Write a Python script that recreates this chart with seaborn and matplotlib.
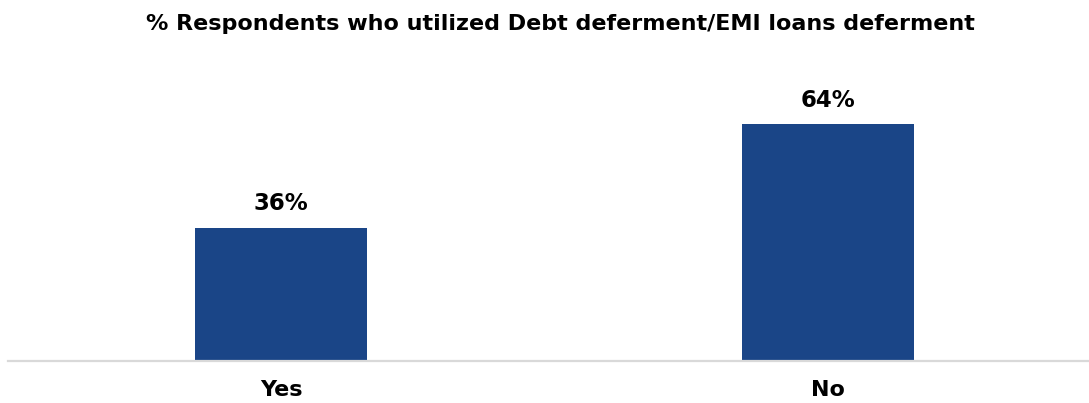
import matplotlib
matplotlib.use("Agg")
import matplotlib.pyplot as plt
import seaborn as sns
import pandas as pd

# Survey results
categories = ["Yes", "No"]
shares = [36, 64]
title = "% Respondents who utilized Debt deferment/EMI loans deferment"

sns.set_theme(style="white")
plt.rcParams["font.family"] = ["DejaVu Sans"]

df = pd.DataFrame({"answer": categories, "share": shares})

W, H = 1089, 403
fig = plt.figure(figsize=(W / 100, H / 100), dpi=100)
ax = fig.add_axes([8 / W, 1 - 361 / H, 1 - 8 / W, (361 - 40) / H])

sns.barplot(data=df, x="answer", y="share", color="#1a4587",
            saturation=1, width=0.313, linewidth=0, ax=ax)

ax.set_xlim(-0.499, 1.477)
ax.set_ylim(0, 86.7)

for p, v in zip(ax.patches, shares):
    ax.annotate(f"{v}%", (p.get_x() + p.get_width() / 2, p.get_height()),
                xytext=(0, 9), textcoords="offset points",
                ha="center", va="bottom", fontsize=16.5, fontweight="bold",
                color="black")

for s in ["top", "right", "left"]:
    ax.spines[s].set_visible(False)
ax.spines["bottom"].set_color("#d9d9d9")
ax.spines["bottom"].set_linewidth(1.6)
ax.set_yticks([])
ax.set_xlabel("")
ax.set_ylabel("")
ax.tick_params(axis="x", length=0, pad=14)
for lbl in ax.get_xticklabels():
    lbl.set_fontsize(16)
    lbl.set_fontweight("bold")
    lbl.set_color("black")

fig.text(560 / W, 1 - 24 / H, title, ha="center", va="center",
         fontsize=16, fontweight="bold", color="black")

fig.savefig("out.png", dpi=100, facecolor="white")
